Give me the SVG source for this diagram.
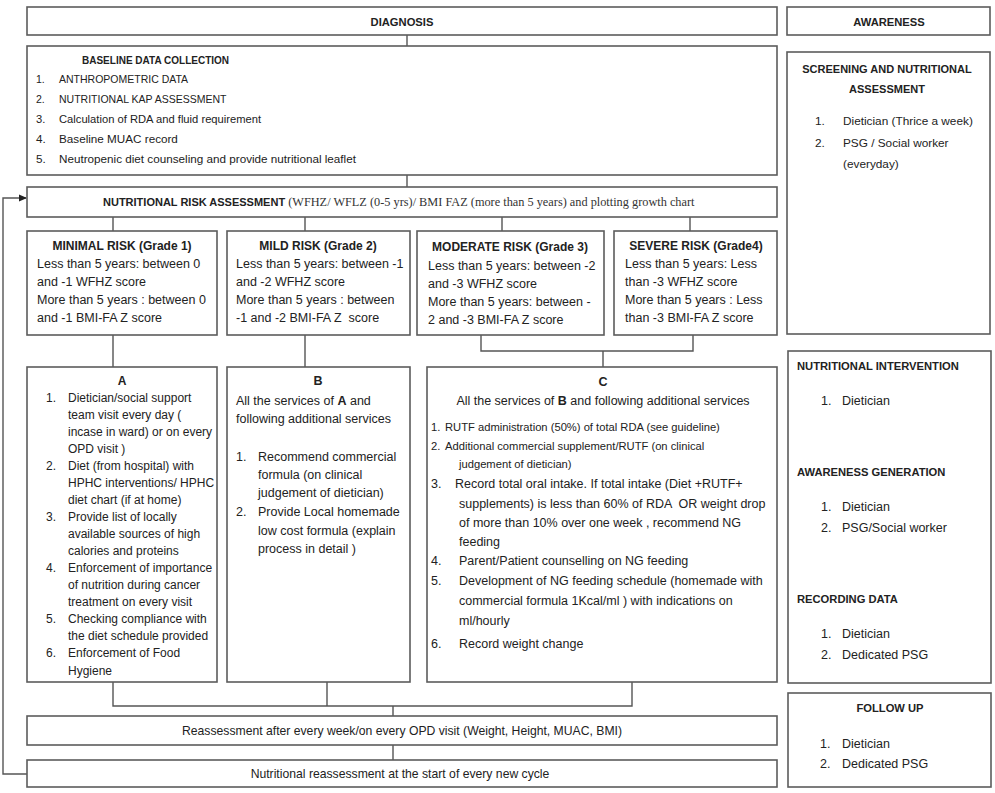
<svg xmlns="http://www.w3.org/2000/svg" width="995" height="793" viewBox="0 0 995 793">
<style>
.box{fill:#fff;stroke:#5c5c5c;stroke-width:1.6}
.conn{fill:none;stroke:#555;stroke-width:1.4}
text{font-family:"Liberation Sans",Arial,sans-serif;fill:#222}
.b{font-weight:bold}
.c{text-anchor:middle}
.s{font-size:10.5px}
.cs{font-size:11.2px}
.m{font-size:12.5px}
.h{font-size:11.2px;font-weight:bold}
.serif{font-family:"Liberation Serif","Times New Roman",serif}
</style>
<defs>
<marker id="arr" markerWidth="8" markerHeight="8" refX="7" refY="4" orient="auto" markerUnits="userSpaceOnUse">
<path d="M0,0.5 L8,4 L0,7.5 Z" fill="#222"/>
</marker>
</defs>
<rect width="995" height="793" fill="#fff"/>

<g id="connectors">
<path class="conn" d="M407,35V46"/>
<path class="conn" d="M407,175V187"/>
<path class="conn" d="M27,774H3V198H26" marker-end="url(#arr)"/>
<path class="conn" d="M113,217V231M305,217V231M502,217V231M690,217V231"/>
<path class="conn" d="M113,335V367M305,335V367"/>
<path class="conn" d="M481,335V351H693V335M603,351V367"/>
<path class="conn" d="M113,682V706H632V682M327,682V706M393,706V716M393,745V760"/>
</g>

<g id="diagnosis">
<rect class="box" x="27" y="7" width="750" height="28"/>
<text class="h c" x="402" y="26">DIAGNOSIS</text>
</g>

<g id="awareness">
<rect class="box" x="787" y="7" width="203" height="28"/>
<text class="h c" x="889" y="26">AWARENESS</text>
</g>

<g id="baseline">
<rect class="box" x="27" y="46" width="750" height="129"/>
<text class="b" x="82" y="64" font-size="10">BASELINE DATA COLLECTION</text>
<text class="s" x="36" y="83">1.</text><text class="s" x="59" y="83">ANTHROPOMETRIC DATA</text>
<text class="s" x="36" y="103">2.</text><text class="s" x="59" y="103">NUTRITIONAL KAP ASSESSMENT</text>
<text x="36" y="123" font-size="11.2">3.</text><text x="59" y="123" font-size="11.2">Calculation of RDA and fluid requirement</text>
<text x="36" y="143" font-size="11.7">4.</text><text x="59" y="143" font-size="11.7">Baseline MUAC record</text>
<text x="36" y="163" font-size="11.7">5.</text><text x="59" y="163" font-size="11.7">Neutropenic diet counseling and provide nutritional leaflet</text>
</g>

<g id="screening">
<rect class="box" x="787" y="52" width="203" height="282"/>
<text class="b c" x="887" y="73" font-size="11">SCREENING AND NUTRITIONAL</text>
<text class="b c" x="887" y="93" font-size="11">ASSESSMENT</text>
<text x="815" y="125" font-size="11.8">1.</text><text x="843" y="125" font-size="11.8">Dietician (Thrice a week)</text>
<text x="815" y="147" font-size="11.8">2.</text><text x="843" y="147" font-size="11.8">PSG / Social worker</text>
<text x="843" y="168" font-size="11.8">(everyday)</text>
</g>

<g id="risk-assessment">
<rect class="box" x="27" y="187" width="750" height="30"/>
<text x="103" y="206"><tspan class="b" font-size="11">NUTRITIONAL RISK ASSESSMENT</tspan><tspan class="serif" font-size="12.3" fill="#333"> (WFHZ/ WFLZ (0-5 yrs)/ BMI FAZ (more than 5 years) and plotting growth chart</tspan></text>
</g>

<g id="minimal-risk">
<rect class="box" x="27" y="231" width="190" height="104"/>
<text class="b c" x="122" y="250" font-size="12">MINIMAL RISK (Grade 1)</text>
<text class="m" x="37" y="268">Less than 5 years: between 0</text>
<text class="m" x="37" y="286">and -1 WFHZ score</text>
<text class="m" x="37" y="304">More than 5 years : between 0</text>
<text class="m" x="37" y="322">and -1 BMI-FA Z score</text>
</g>

<g id="mild-risk">
<rect class="box" x="227" y="231" width="183" height="104"/>
<text class="b c" x="318" y="250" font-size="12">MILD RISK (Grade 2)</text>
<text class="m" x="236" y="268">Less than 5 years: between -1</text>
<text class="m" x="236" y="286">and -2 WFHZ score</text>
<text class="m" x="236" y="304">More than 5 years : between</text>
<text class="m" x="236" y="322" xml:space="preserve">-1 and -2 BMI-FA Z  score</text>
</g>

<g id="moderate-risk">
<rect class="box" x="417" y="231" width="187" height="104"/>
<text class="b c" x="510" y="251" font-size="12">MODERATE RISK (Grade 3)</text>
<text class="m" x="428" y="270">Less than 5 years: between -2</text>
<text class="m" x="428" y="288">and -3 WFHZ score</text>
<text class="m" x="428" y="306">More than 5 years: between -</text>
<text class="m" x="428" y="324">2 and -3 BMI-FA Z score</text>
</g>

<g id="severe-risk">
<rect class="box" x="614" y="231" width="163" height="104"/>
<text class="b c" x="696" y="250" font-size="12">SEVERE RISK (Grade4)</text>
<text class="m" x="625" y="268">Less than 5 years: Less</text>
<text class="m" x="625" y="286">than -3 WFHZ score</text>
<text class="m" x="625" y="304">More than 5 years : Less</text>
<text class="m" x="625" y="322">than -3 BMI-FA Z score</text>
</g>

<g id="services-a" font-size="12">
<rect class="box" x="27" y="367" width="190" height="315"/>
<text class="b c" x="122" y="385">A</text>
<text x="46" y="402">1.</text><text x="68" y="402">Dietician/social support</text>
<text x="68" y="419">team visit every day (</text>
<text x="68" y="436">incase in ward) or on every</text>
<text x="68" y="453">OPD visit )</text>
<text x="46" y="470">2.</text><text x="68" y="470">Diet (from hospital) with</text>
<text x="68" y="487">HPHC interventions/ HPHC</text>
<text x="68" y="504">diet chart (if at home)</text>
<text x="46" y="521">3.</text><text x="68" y="521">Provide list of locally</text>
<text x="68" y="538">available sources of high</text>
<text x="68" y="555">calories and proteins</text>
<text x="46" y="572">4.</text><text x="68" y="572">Enforcement of importance</text>
<text x="68" y="589">of nutrition during cancer</text>
<text x="68" y="606">treatment on every visit</text>
<text x="46" y="623">5.</text><text x="68" y="623">Checking compliance with</text>
<text x="68" y="640">the diet schedule provided</text>
<text x="46" y="657">6.</text><text x="68" y="657">Enforcement of Food</text>
<text x="68" y="675">Hygiene</text>
</g>

<g id="services-b" font-size="12.5">
<rect class="box" x="227" y="367" width="183" height="315"/>
<text class="b c" x="318" y="385">B</text>
<text x="236" y="405">All the services of <tspan class="b">A</tspan> and</text>
<text x="236" y="423">following additional services</text>
<text x="236" y="461">1.</text><text x="258" y="461">Recommend commercial</text>
<text x="258" y="479">formula (on clinical</text>
<text x="258" y="497">judgement of dietician)</text>
<text x="236" y="516">2.</text><text x="258" y="516">Provide Local homemade</text>
<text x="258" y="535">low cost formula (explain</text>
<text x="258" y="553">process in detail )</text>
</g>

<g id="services-c">
<rect class="box" x="427" y="367" width="350" height="315"/>
<text class="b c m" x="603" y="386">C</text>
<text class="c m" x="603" y="405">All the services of <tspan class="b">B</tspan> and following additional services</text>
<text class="cs" x="431" y="431">1.</text><text class="cs" x="445" y="431">RUTF administration (50%) of total RDA (see guideline)</text>
<text class="cs" x="431" y="450">2.</text><text class="cs" x="445" y="450">Additional commercial supplement/RUTF (on clinical</text>
<text class="cs" x="459" y="468">judgement of dietician)</text>
<text class="m" x="431" y="488">3.</text><text class="m" x="455" y="488">Record total oral intake. If total intake (Diet +RUTF+</text>
<text class="m" x="459" y="508" xml:space="preserve">supplements) is less than 60% of RDA  OR weight drop</text>
<text class="m" x="459" y="527">of more than 10% over one week , recommend NG</text>
<text class="m" x="459" y="546">feeding</text>
<text class="m" x="431" y="565">4.</text><text class="m" x="459" y="565">Parent/Patient counselling on NG feeding</text>
<text class="m" x="431" y="585">5.</text><text class="m" x="459" y="585">Development of NG feeding schedule (homemade with</text>
<text class="m" x="459" y="605">commercial formula 1Kcal/ml ) with indications on</text>
<text class="m" x="459" y="625">ml/hourly</text>
<text class="m" x="431" y="648">6.</text><text class="m" x="459" y="648">Record weight change</text>
</g>

<g id="intervention">
<rect class="box" x="788" y="351" width="203" height="332"/>
<text class="h" x="797" y="370">NUTRITIONAL INTERVENTION</text>
<text class="m" x="821" y="405">1.</text><text class="m" x="842" y="405">Dietician</text>
<text class="h" x="797" y="476">AWARENESS GENERATION</text>
<text class="m" x="821" y="511">1.</text><text class="m" x="842" y="511">Dietician</text>
<text class="m" x="821" y="532">2.</text><text class="m" x="842" y="532">PSG/Social worker</text>
<text class="h" x="797" y="603">RECORDING DATA</text>
<text class="m" x="821" y="638">1.</text><text class="m" x="842" y="638">Dietician</text>
<text class="m" x="821" y="659">2.</text><text class="m" x="842" y="659">Dedicated PSG</text>
</g>

<g id="reassessment-weekly">
<rect class="box" x="27" y="716" width="750" height="29"/>
<text class="c" x="402" y="735" font-size="12.2">Reassessment after every week/on every OPD visit (Weight, Height, MUAC, BMI)</text>
</g>

<g id="reassessment-cycle">
<rect class="box" x="27" y="760" width="750" height="27"/>
<text class="c" x="400" y="778" font-size="12.2">Nutritional reassessment at the start of every new cycle</text>
</g>

<g id="follow-up">
<rect class="box" x="788" y="693" width="203" height="94"/>
<text class="h c" x="890" y="712">FOLLOW UP</text>
<text class="m" x="820" y="748">1.</text><text class="m" x="842" y="748">Dietician</text>
<text class="m" x="820" y="768">2.</text><text class="m" x="842" y="768">Dedicated PSG</text>
</g>
</svg>
